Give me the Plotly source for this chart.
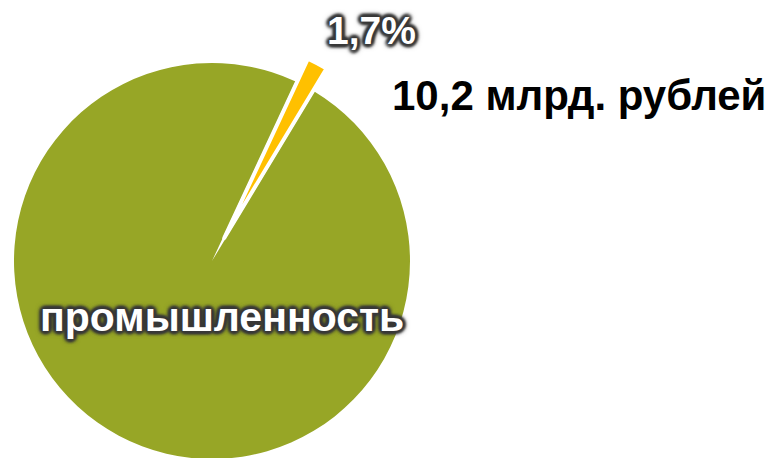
import math
import plotly.graph_objects as go

# ---- data ----
categories = ["прочее", "промышленность"]
shares = [1.7, 98.3]               # percent
amount_labels = ["10,2 млрд. рублей", ""]
colors = ["#FFC000", "#97A626"]

# ---- style / layout constants ----
W, H = 773, 458
OFF = 8                            # page body margin
CX, CY, R = 212 - OFF, 261 - OFF, 198   # pie centre / radius in px
START_ANGLE = 25                   # deg clockwise from 12 o'clock
EXPLODE_PX = 26                    # how far the small slice is pulled out
BORDER = 4

def dom(cx, cy, r):
    return dict(x=[max(0, (cx - r) / W), (cx + r) / W],
                y=[max(0, (H - cy - r) / H), min(1, (H - cy + r) / H)])

fig = go.Figure()

# base pie: small slice left as a white gap
fig.add_trace(go.Pie(
    labels=categories, values=shares, sort=False, direction="clockwise",
    rotation=START_ANGLE, textinfo="none", hoverinfo="skip",
    marker=dict(colors=["white", colors[1]],
                line=dict(color="white", width=[BORDER, 0])),
    domain=dom(CX, CY, R), showlegend=False,
))

# exploded small slice, drawn on top
mid = math.radians(START_ANGLE + 360 * shares[0] / sum(shares) / 2)
ex_cx = CX + EXPLODE_PX * math.sin(mid)
ex_cy = CY - EXPLODE_PX * math.cos(mid)
fig.add_trace(go.Pie(
    labels=categories, values=shares, sort=False, direction="clockwise",
    rotation=START_ANGLE, textinfo="none", hoverinfo="skip",
    marker=dict(colors=[colors[0], "rgba(0,0,0,0)"],
                line=dict(color="white", width=[BORDER, 0])),
    domain=dom(ex_cx, ex_cy, R), showlegend=False,
))

g = "#383838"
glow = (f"2px 2px 3px {g}, -2px -2px 3px {g}, 2px -2px 3px {g}, -2px 2px 3px {g}, "
        f"0 3px 3px {g}, 0 -3px 3px {g}, 3px 0 3px {g}, -3px 0 3px {g}, 0 0 7px {g}")
font_fam = "Liberation Sans, Arial, sans-serif"

pct_text = f"{shares[0]:.1f}%".replace(".", ",")

fig.add_annotation(x=(371 - OFF) / W, y=1 - (31 - OFF) / H, xref="paper", yref="paper",
                   text=pct_text, showarrow=False, xanchor="center", yanchor="middle",
                   font=dict(family=font_fam, size=39, color="white", weight="bold",
                             shadow=glow))
fig.add_annotation(x=(390 - OFF) / W, y=1 - (95 - OFF) / H, xref="paper", yref="paper",
                   text=amount_labels[0], showarrow=False, xanchor="left", yanchor="middle",
                   font=dict(family=font_fam, size=42, color="black", weight="bold"))
fig.add_annotation(x=(222 - OFF) / W, y=1 - (317 - OFF) / H, xref="paper", yref="paper",
                   text=categories[1], showarrow=False, xanchor="center", yanchor="middle",
                   font=dict(family=font_fam, size=41, color="white", weight="bold",
                             shadow=glow))

fig.update_layout(width=W, height=H, margin=dict(l=0, r=0, t=0, b=0),
                  paper_bgcolor="white", plot_bgcolor="white")

fig.write_html("out.html")
